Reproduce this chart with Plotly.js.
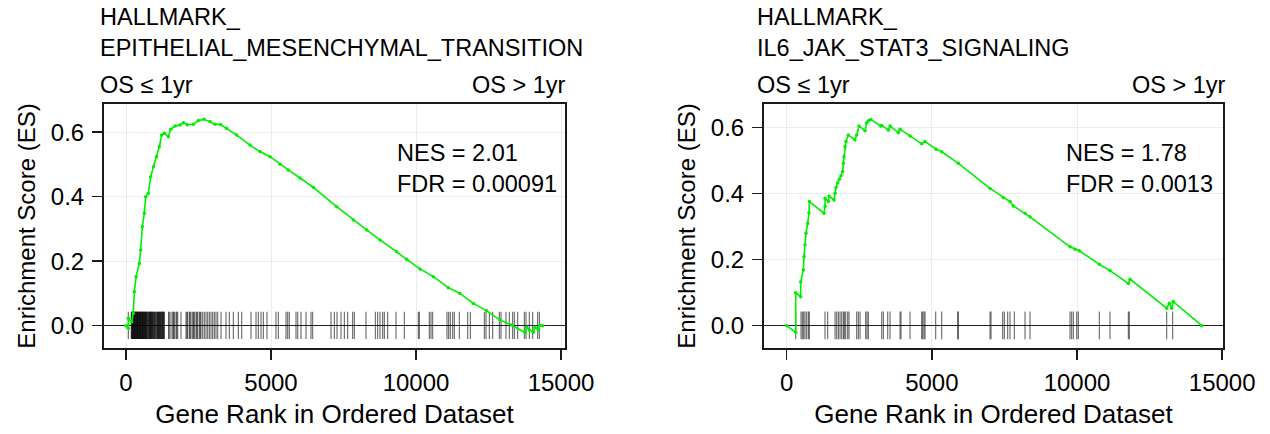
<!DOCTYPE html>
<html>
<head>
<meta charset="utf-8">
<script src="https://cdn.plot.ly/plotly-3.0.1.min.js"></script>
<style>html,body{margin:0;padding:0;background:#fff;}#chart{width:1270px;height:434px;}</style>
</head>
<body>
<div id="chart"></div>
<script>
// ---------- data ----------
const titleLeft = "HALLMARK_<br>EPITHELIAL_MESENCHYMAL_TRANSITION";
const titleRight = "HALLMARK_<br>IL6_JAK_STAT3_SIGNALING";
const statsLeft = "NES = 2.01<br>FDR = 0.00091";
const statsRight = "NES = 1.78<br>FDR = 0.0013";
const groupLow = "OS \u2264 1yr";
const groupHigh = "OS > 1yr";
const xTickVals = [0, 5000, 10000, 15000];
const yTickVals = [0.0, 0.2, 0.4, 0.6];

// running enrichment score, left panel (rank, ES)
const esLeftRank = [0, 80, 85, 195, 250, 287, 345, 460, 505, 563, 632, 678, 770, 851, 943, 1057, 1149, 1230, 1322, 1460, 1540, 1690, 1862, 1977, 2115, 2322, 2494, 2690, 2897, 3069, 3264, 3471, 3816, 4276, 4621, 4966, 5310, 5597, 6000, 6459, 7264, 7839, 8299, 8759, 9333, 9678, 10138, 10598, 11115, 11517, 11977, 12437, 12897, 13299, 13759, 13816, 13908, 14046, 14103, 14218, 14276, 14368];
const esLeftValue = [0, -0.008, 0.023, 0.012, 0.038, 0.105, 0.152, 0.193, 0.235, 0.307, 0.349, 0.40, 0.41, 0.462, 0.493, 0.524, 0.555, 0.591, 0.597, 0.586, 0.609, 0.619, 0.622, 0.629, 0.623, 0.625, 0.636, 0.640, 0.633, 0.625, 0.624, 0.612, 0.591, 0.560, 0.540, 0.524, 0.501, 0.483, 0.458, 0.429, 0.369, 0.328, 0.297, 0.266, 0.229, 0.206, 0.176, 0.152, 0.118, 0.100, 0.069, 0.046, 0.018, 0.002, -0.022, -0.005, -0.013, -0.02, -0.005, -0.013, 0.001, 0];
// gene-set hits, left panel (rank)
const hitsLeft = [80, 180, 195, 205, 218, 230, 240, 250, 262, 275, 285, 295, 308, 320, 332, 345, 358, 370, 380, 390, 400, 410, 425, 440, 450, 460, 472, 485, 495, 505, 518, 530, 545, 560, 570, 580, 590, 600, 615, 632, 645, 655, 668, 678, 690, 700, 715, 730, 750, 770, 785, 800, 815, 830, 840, 851, 865, 880, 895, 910, 925, 943, 960, 980, 995, 1010, 1035, 1057, 1075, 1090, 1105, 1120, 1135, 1149, 1165, 1180, 1195, 1210, 1230, 1245, 1260, 1275, 1290, 1305, 1322, 1471, 1490, 1551, 1609, 1640, 1667, 1724, 1750, 1782, 1897, 2069, 2100, 2126, 2184, 2210, 2241, 2299, 2330, 2356, 2414, 2440, 2471, 2529, 2560, 2586, 2644, 2701, 2759, 2816, 2874, 2931, 2989, 3046, 3103, 3161, 3276, 3448, 3563, 3701, 3874, 3989, 4310, 4483, 4563, 4655, 4736, 4862, 5172, 5253, 5517, 5575, 5632, 5862, 5920, 6034, 6207, 6379, 6437, 7069, 7184, 7276, 7414, 7529, 7644, 7816, 7874, 8276, 8598, 8678, 8759, 8851, 8908, 9023, 9310, 9598, 10080, 10115, 10460, 10517, 10575, 11069, 11126, 11184, 11264, 11322, 11494, 11782, 11874, 12356, 12414, 12529, 12644, 12874, 12931, 13103, 13218, 13333, 13391, 13506, 13736, 13793, 13908, 14023, 14195, 14253];

// running enrichment score, right panel (rank, ES)
const esRightRank = [0, 310, 310, 482, 482, 573, 596, 630, 665, 723, 768, 780, 1285, 1320, 1320, 1435, 1458, 1630, 1665, 1699, 1757, 1813, 1870, 1929, 1950, 1974, 2008, 2043, 2122, 2353, 2411, 2491, 2697, 2756, 2811, 2894, 3238, 3272, 3500, 3559, 3844, 3903, 4248, 4650, 4764, 5143, 5340, 5912, 7003, 7462, 7692, 7806, 8209, 8381, 9759, 9931, 10080, 10769, 11137, 11768, 11826, 13090, 13180, 13262, 13318, 14296];
const esRightValue = [0, -0.02, 0.10, 0.088, 0.133, 0.169, 0.209, 0.245, 0.28, 0.31, 0.342, 0.376, 0.341, 0.361, 0.386, 0.376, 0.393, 0.381, 0.401, 0.419, 0.433, 0.444, 0.454, 0.467, 0.492, 0.512, 0.542, 0.558, 0.578, 0.563, 0.578, 0.605, 0.591, 0.615, 0.621, 0.625, 0.605, 0.607, 0.593, 0.605, 0.585, 0.595, 0.575, 0.551, 0.558, 0.535, 0.527, 0.492, 0.416, 0.388, 0.376, 0.363, 0.341, 0.330, 0.239, 0.232, 0.227, 0.186, 0.167, 0.128, 0.141, 0.053, 0.068, 0.053, 0.073, 0.0];
// gene-set hits, right panel (rank)
const hitsRight = [310, 494, 540, 586, 631, 689, 746, 781, 1320, 1412, 1665, 1722, 1780, 1837, 1894, 1952, 1986, 2032, 2101, 2147, 2411, 2468, 2526, 2721, 2767, 2813, 3272, 3330, 3479, 3559, 3904, 3938, 4248, 4650, 4684, 4730, 4765, 5132, 5339, 5890, 5913, 7003, 7038, 7440, 7497, 7612, 7692, 7841, 8209, 8381, 9759, 9816, 9874, 9989, 10046, 10769, 11137, 11768, 11803, 13089, 13295];

// ---------- drawing ----------
const W = 1270, H = 434;
const FONT = '"Liberation Sans", Arial, Helvetica, sans-serif';
const GREEN = '#00ee00';
const RUG_LO = -0.041, RUG_HI = 0.043;

function rugTrace(hits, xa, ya) {
  const xs = [], ys = [];
  hits.forEach(h => { xs.push(h, h, null); ys.push(RUG_LO, RUG_HI, null); });
  return {x: xs, y: ys, xaxis: xa, yaxis: ya, mode: 'lines', type: 'scatter',
          line: {color: 'rgba(0,0,0,0.6)', width: 1.1}, hoverinfo: 'skip', showlegend: false};
}
function esTrace(xs, ys, xa, ya) {
  return {x: xs, y: ys, xaxis: xa, yaxis: ya, mode: 'lines+markers', type: 'scatter',
          line: {color: GREEN, width: 1.6}, marker: {color: GREEN, size: 3.5},
          showlegend: false};
}

const px = v => v / W;            // horizontal pixel -> paper
const py = v => 1 - v / H;        // vertical pixel (from top) -> paper

function xAxis(dom, range) {
  return {domain: dom, range: range, tickvals: xTickVals, ticktext: xTickVals.map(String),
    showgrid: true, gridcolor: '#ececec', gridwidth: 1, zeroline: false,
    showline: true, linecolor: '#1a1a1a', linewidth: 2, mirror: true,
    ticks: 'outside', ticklen: 10, tickwidth: 1.5, tickcolor: '#1a1a1a',
    ticklabelstandoff: 2,
    tickfont: {family: FONT, size: 24, color: '#000'},
    title: {text: 'Gene Rank in Ordered Dataset', font: {family: FONT, size: 26, color: '#000'}, standoff: 10}};
}
function yAxis(dom, range, anchor) {
  return {domain: dom, range: range, anchor: anchor, tickvals: yTickVals, tickformat: '.1f',
    showgrid: true, gridcolor: '#ececec', gridwidth: 1,
    zeroline: true, zerolinecolor: '#222', zerolinewidth: 1.3,
    showline: true, linecolor: '#1a1a1a', linewidth: 2, mirror: true,
    ticks: 'outside', ticklen: 10, tickwidth: 1.5, tickcolor: '#1a1a1a',
    ticklabelstandoff: 3,
    tickfont: {family: FONT, size: 24, color: '#000'},
    title: {text: 'Enrichment Score (ES)', font: {family: FONT, size: 24, color: '#000'}, standoff: 8}};
}

const yDom = [py(348), py(104)];
const layout = {
  width: W, height: H, margin: {l: 0, r: 0, t: 0, b: 0},
  paper_bgcolor: '#fff', plot_bgcolor: '#fff',
  font: {family: FONT, size: 24, color: '#000'},
  xaxis: Object.assign(xAxis([px(104), px(565)], [-759, 15138]), {anchor: 'y'}),
  yaxis: yAxis(yDom, [-0.0692, 0.6875], 'x'),
  xaxis2: Object.assign(xAxis([px(764), px(1223)], [-782, 15029]), {anchor: 'y2'}),
  yaxis2: yAxis(yDom, [-0.0676, 0.6718], 'x2'),
  annotations: [
    {text: titleLeft, xref: 'paper', yref: 'paper', x: px(98), y: py(2), xanchor: 'left', yanchor: 'top', align: 'left', showarrow: false, font: {family: FONT, size: 23.5, color: '#000'}},
    {text: titleRight, xref: 'paper', yref: 'paper', x: px(755), y: py(2), xanchor: 'left', yanchor: 'top', align: 'left', showarrow: false, font: {family: FONT, size: 23.5, color: '#000'}},
    {text: groupLow, xref: 'paper', yref: 'paper', x: px(98), y: py(85), xanchor: 'left', yanchor: 'middle', showarrow: false, font: {family: FONT, size: 23.5, color: '#000'}},
    {text: groupHigh, xref: 'paper', yref: 'paper', x: px(568), y: py(85), xanchor: 'right', yanchor: 'middle', showarrow: false, font: {family: FONT, size: 23.5, color: '#000'}},
    {text: groupLow, xref: 'paper', yref: 'paper', x: px(755), y: py(85), xanchor: 'left', yanchor: 'middle', showarrow: false, font: {family: FONT, size: 23.5, color: '#000'}},
    {text: groupHigh, xref: 'paper', yref: 'paper', x: px(1228), y: py(85), xanchor: 'right', yanchor: 'middle', showarrow: false, font: {family: FONT, size: 23.5, color: '#000'}},
    {text: statsLeft, xref: 'paper', yref: 'paper', x: px(395), y: py(168), xanchor: 'left', yanchor: 'middle', align: 'left', showarrow: false, font: {family: FONT, size: 23.5, color: '#000'}},
    {text: statsRight, xref: 'paper', yref: 'paper', x: px(1064), y: py(168), xanchor: 'left', yanchor: 'middle', align: 'left', showarrow: false, font: {family: FONT, size: 23.5, color: '#000'}}
  ]
};

const data = [
  rugTrace(hitsLeft, 'x', 'y'),
  esTrace(esLeftRank, esLeftValue, 'x', 'y'),
  rugTrace(hitsRight, 'x2', 'y2'),
  esTrace(esRightRank, esRightValue, 'x2', 'y2')
];

Plotly.newPlot('chart', data, layout, {staticPlot: true, displayModeBar: false});
</script>
</body>
</html>
